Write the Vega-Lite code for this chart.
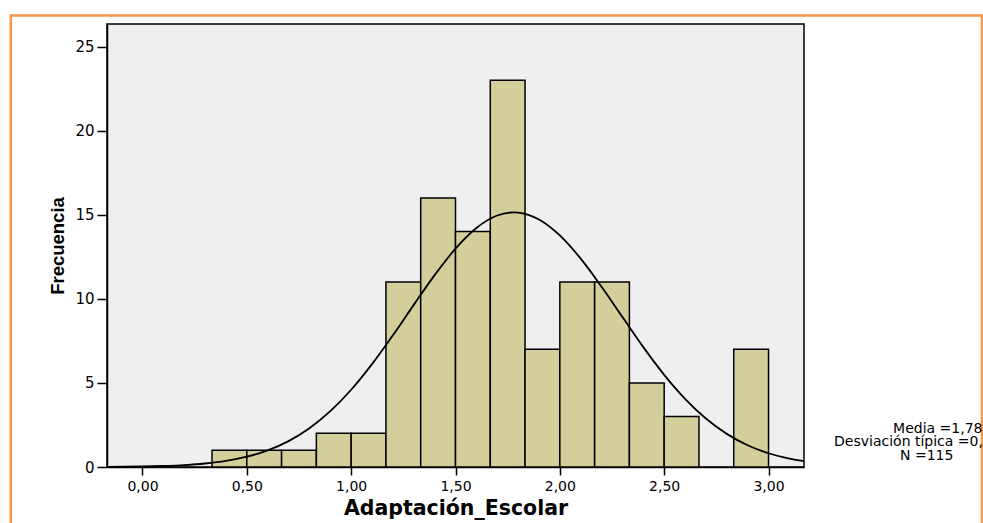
{
  "$schema": "https://vega.github.io/schema/vega-lite/v6.json",
  "width": 697,
  "height": 443,
  "autosize": "none",
  "padding": {"left": 107, "top": 24, "right": 179, "bottom": 56},
  "background": "white",
  "config": {
    "view": {"fill": "#EFEFEF", "stroke": "black", "strokeWidth": 1.5},
    "font": "DejaVu Sans"
  },
  "datasets": {
    "bins": [
      {"bin_start": 0.3333, "bin_end": 0.5, "count": 1},
      {"bin_start": 0.5, "bin_end": 0.6667, "count": 1},
      {"bin_start": 0.6667, "bin_end": 0.8333, "count": 1},
      {"bin_start": 0.8333, "bin_end": 1.0, "count": 2},
      {"bin_start": 1.0, "bin_end": 1.1667, "count": 2},
      {"bin_start": 1.1667, "bin_end": 1.3333, "count": 11},
      {"bin_start": 1.3333, "bin_end": 1.5, "count": 16},
      {"bin_start": 1.5, "bin_end": 1.6667, "count": 14},
      {"bin_start": 1.6667, "bin_end": 1.8333, "count": 23},
      {"bin_start": 1.8333, "bin_end": 2.0, "count": 7},
      {"bin_start": 2.0, "bin_end": 2.1667, "count": 11},
      {"bin_start": 2.1667, "bin_end": 2.3333, "count": 11},
      {"bin_start": 2.3333, "bin_end": 2.5, "count": 5},
      {"bin_start": 2.5, "bin_end": 2.6667, "count": 3},
      {"bin_start": 2.8333, "bin_end": 3.0, "count": 7}
    ],
    "curve": [
      {"x": -0.17, "y": 0.009},
      {"x": 0.0, "y": 0.030},
      {"x": 0.1, "y": 0.060},
      {"x": 0.2, "y": 0.113},
      {"x": 0.3, "y": 0.207},
      {"x": 0.4, "y": 0.362},
      {"x": 0.5, "y": 0.610},
      {"x": 0.6, "y": 0.988},
      {"x": 0.7, "y": 1.538},
      {"x": 0.8, "y": 2.303},
      {"x": 0.9, "y": 3.317},
      {"x": 1.0, "y": 4.592},
      {"x": 1.1, "y": 6.115},
      {"x": 1.2, "y": 7.829},
      {"x": 1.3, "y": 9.639},
      {"x": 1.4, "y": 11.407},
      {"x": 1.5, "y": 12.983},
      {"x": 1.6, "y": 14.210},
      {"x": 1.7, "y": 14.952},
      {"x": 1.78, "y": 15.141},
      {"x": 1.8, "y": 15.129},
      {"x": 1.9, "y": 14.720},
      {"x": 2.0, "y": 13.771},
      {"x": 2.1, "y": 12.387},
      {"x": 2.2, "y": 10.715},
      {"x": 2.3, "y": 8.912},
      {"x": 2.4, "y": 7.126},
      {"x": 2.5, "y": 5.479},
      {"x": 2.6, "y": 4.052},
      {"x": 2.7, "y": 2.880},
      {"x": 2.8, "y": 1.970},
      {"x": 2.9, "y": 1.295},
      {"x": 3.0, "y": 0.818},
      {"x": 3.1, "y": 0.497},
      {"x": 3.17, "y": 0.345}
    ],
    "media": [{"label": "Media =1,78"}],
    "desv": [{"label": "Desviación típica =0,505"}],
    "n": [{"label": "N =115"}],
    "frame": [{"note": "border"}]
  },
  "layer": [
    {
      "data": {"name": "frame"},
      "mark": {"type": "rect", "fill": "transparent", "stroke": "#F79646", "strokeWidth": 2.5, "clip": false},
      "encoding": {
        "x": {"datum": -0.631, "type": "quantitative"},
        "x2": {"datum": 4.023},
        "y": {"datum": 26.85, "type": "quantitative"},
        "y2": {"datum": -4}
      }
    },
    {
      "data": {"name": "bins"},
      "mark": {"type": "rect", "fill": "#D3CE9A", "stroke": "black", "strokeWidth": 1.5},
      "encoding": {
        "x": {
          "field": "bin_start",
          "type": "quantitative",
          "scale": {"domain": [-0.17, 3.17], "nice": false, "zero": false},
          "axis": {
            "values": [0, 0.5, 1, 1.5, 2, 2.5, 3],
            "labelExpr": "replace(format(datum.value, '.2f'), '.', ',')",
            "grid": false,
            "domainColor": "black",
            "domainWidth": 1.5,
            "tickColor": "black",
            "tickWidth": 1.5,
            "tickSize": 8,
            "labelFont": "DejaVu Sans",
            "labelFontSize": 14,
            "labelColor": "black",
            "labelPadding": 4,
            "title": "Adaptación_Escolar",
            "titleFont": "DejaVu Sans",
            "titleFontSize": 20.5,
            "titleFontWeight": "bold",
            "titleColor": "black",
            "titlePadding": 5
          }
        },
        "x2": {"field": "bin_end"},
        "y": {
          "field": "count",
          "type": "quantitative",
          "scale": {"domain": [0, 26.34], "nice": false},
          "axis": {
            "values": [0, 5, 10, 15, 20, 25],
            "grid": false,
            "domainColor": "black",
            "domainWidth": 1.5,
            "tickColor": "black",
            "tickWidth": 1.5,
            "tickSize": 10,
            "labelFont": "DejaVu Sans",
            "labelFontSize": 15,
            "labelColor": "black",
            "labelPadding": 3,
            "title": "Frecuencia",
            "titleFont": "Liberation Sans",
            "titleFontSize": 18.5,
            "titleFontWeight": "bold",
            "titleColor": "black",
            "titlePadding": 7
          }
        },
        "y2": {"datum": 0}
      }
    },
    {
      "data": {"name": "curve"},
      "mark": {"type": "line", "color": "black", "strokeWidth": 1.8, "interpolate": "monotone"},
      "encoding": {
        "x": {"field": "x", "type": "quantitative"},
        "y": {"field": "y", "type": "quantitative"}
      }
    },
    {
      "data": {"name": "media"},
      "mark": {"type": "text", "align": "left", "baseline": "alphabetic", "fontSize": 14, "font": "DejaVu Sans", "color": "black", "clip": false},
      "encoding": {
        "x": {"datum": 3.597, "type": "quantitative"},
        "y": {"datum": 2.02, "type": "quantitative"},
        "text": {"field": "label", "type": "nominal"}
      }
    },
    {
      "data": {"name": "desv"},
      "mark": {"type": "text", "align": "left", "baseline": "alphabetic", "fontSize": 14, "font": "DejaVu Sans", "color": "black", "clip": false},
      "encoding": {
        "x": {"datum": 3.314, "type": "quantitative"},
        "y": {"datum": 1.22, "type": "quantitative"},
        "text": {"field": "label", "type": "nominal"}
      }
    },
    {
      "data": {"name": "n"},
      "mark": {"type": "text", "align": "left", "baseline": "alphabetic", "fontSize": 14, "font": "DejaVu Sans", "color": "black", "clip": false},
      "encoding": {
        "x": {"datum": 3.63, "type": "quantitative"},
        "y": {"datum": 0.42, "type": "quantitative"},
        "text": {"field": "label", "type": "nominal"}
      }
    }
  ]
}
